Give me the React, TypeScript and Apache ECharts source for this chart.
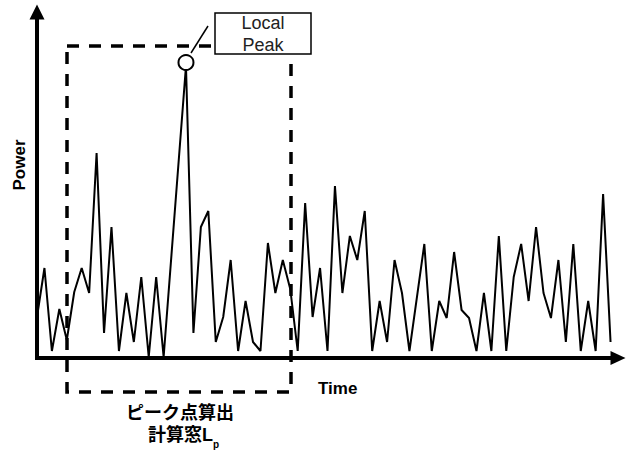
import React, { useEffect, useRef } from "react";
import * as echarts from "echarts";

// Power samples (index = time step); null = sample not distinguishable on the straight stretch
const power: (number | null)[] = [
  41, 90, 7, 49, 18, 66, 90, 65, 205, 25,
  131, 7, 65, 16, 81, 1, 81, 1, null, null,
  292, 25, 131, 147, 16, 41, 98, 7, 57, 16,
  7, 115, 65, 98, 69, 7, 155, 41, 90, 7,
  172, 65, 122, 98, 147, 7, 57, 16, 98, 65,
  7, null, 114, 7, 57, 40, 106, 48, 40, 7,
  65, 7, 122, 7, 81, 114, 57, 131, 65, 40,
  98, 16, 114, 7, 57, 7, 164, 16,
];
const peakIndex = 20;
const xAxisName = "Time";
const yAxisName = "Power";
const peakLabel = ["Local", "Peak"];
const windowLabel1 = "ピーク点算出";
const windowLabel2 = "計算窓L";
const windowSub = "p";

const FONT = "'Liberation Sans', Arial, 'Noto Sans CJK JP', sans-serif";
const JP = "'Liberation Sans', 'Noto Sans CJK JP', sans-serif";

export default function App() {
  const ref = useRef<HTMLDivElement>(null);
  useEffect(() => {
    if (!ref.current) return;
    const chart = echarts.init(ref.current, undefined, { renderer: "svg" });
    const data = power.map((v, i) => [i, v]);
    chart.setOption({
      animation: false,
      backgroundColor: "#fff",
      grid: { left: 37, right: 10, top: 12, bottom: 92 },
      xAxis: {
        type: "value",
        min: 0,
        max: 78,
        axisLine: {
          show: true,
          symbol: ["none", "triangle"],
          symbolSize: [14, 15],
          lineStyle: { color: "#000", width: 4, cap: "square" },
        },
        axisTick: { show: false },
        axisLabel: { show: false },
        splitLine: { show: false },
      },
      yAxis: {
        type: "value",
        min: 0,
        max: 346,
        axisLine: {
          show: true,
          symbol: ["none", "triangle"],
          symbolSize: [15, 15],
          lineStyle: { color: "#000", width: 4, cap: "square" },
        },
        axisTick: { show: false },
        axisLabel: { show: false },
        splitLine: { show: false },
      },
      series: [
        {
          type: "line",
          data,
          connectNulls: true,
          showSymbol: false,
          lineStyle: { color: "#000", width: 2 },
          markPoint: {
            silent: true,
            data: [
              {
                coord: [peakIndex, power[peakIndex]],
                symbol: "circle",
                symbolSize: 15,
                symbolOffset: [0, -3.5],
                itemStyle: { color: "#fff", borderColor: "#000", borderWidth: 2 },
                label: { show: false },
              },
            ],
          },
        },
      ],
      graphic: [
        {
          type: "rect",
          z: 100,
          shape: { x: 67, y: 46, width: 224, height: 346 },
          style: { fill: "none", stroke: "#000", lineWidth: 3.5, lineDash: [12, 10] },
        },
        {
          type: "line",
          z: 101,
          shape: { x1: 191, y1: 53, x2: 208, y2: 26 },
          style: { stroke: "#000", lineWidth: 1.5 },
        },
        {
          type: "rect",
          z: 102,
          shape: { x: 215, y: 13, width: 96, height: 41 },
          style: { fill: "#fff", stroke: "#000", lineWidth: 1.5 },
        },
        {
          type: "text",
          z: 103,
          x: 263,
          y: 23,
          style: { text: peakLabel[0], font: `18px ${FONT}`, fill: "#222", align: "center", verticalAlign: "middle" },
        },
        {
          type: "text",
          z: 103,
          x: 263,
          y: 45,
          style: { text: peakLabel[1], font: `18px ${FONT}`, fill: "#222", align: "center", verticalAlign: "middle" },
        },
        {
          type: "text",
          z: 103,
          x: 318,
          y: 388,
          style: { text: xAxisName, font: `bold 17px ${FONT}`, fill: "#000", align: "left", verticalAlign: "middle" },
        },
        {
          type: "text",
          z: 103,
          x: 19,
          y: 165,
          rotation: Math.PI / 2,
          style: { text: yAxisName, font: `bold 17px ${FONT}`, fill: "#000", align: "center", verticalAlign: "middle" },
        },
        {
          type: "text",
          z: 103,
          x: 180,
          y: 413,
          style: { text: windowLabel1, font: `bold 18px ${JP}`, fill: "#000", align: "center", verticalAlign: "middle" },
        },
        {
          type: "text",
          z: 103,
          x: 213,
          y: 435,
          style: { text: windowLabel2, font: `bold 18px ${JP}`, fill: "#000", align: "right", verticalAlign: "middle" },
        },
        {
          type: "text",
          z: 103,
          x: 213,
          y: 444,
          style: { text: windowSub, font: `bold 10px ${FONT}`, fill: "#000", align: "left", verticalAlign: "middle" },
        },
      ],
    });
    return () => chart.dispose();
  }, []);
  return (
    <div
      ref={ref}
      style={{ position: "fixed", left: 0, top: 0, width: 628, height: 450 }}
    />
  );
}
